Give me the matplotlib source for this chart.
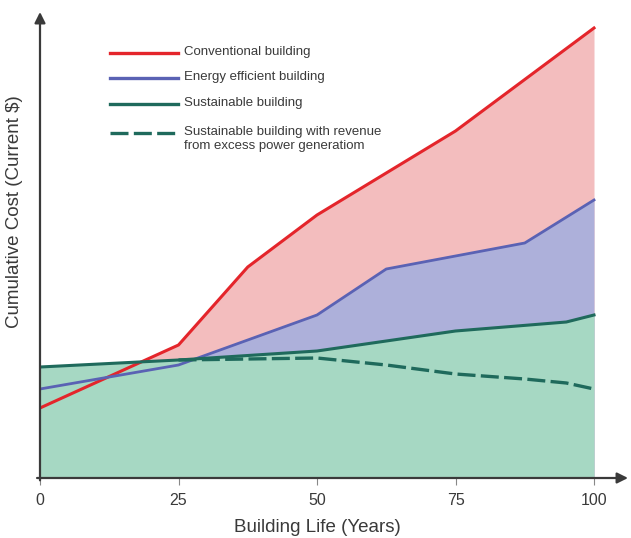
import matplotlib
matplotlib.use("Agg")
import matplotlib.pyplot as plt

plt.rcParams['font.family'] = ['Liberation Sans', 'DejaVu Sans']

# Cumulative cost over building life (arbitrary current-$ units)
conv_years = [0, 25, 37.5, 50, 75, 100]
conv_cost = [69, 132, 210, 262, 346, 449]

eff_years = [0, 25, 50, 62.5, 87.5, 100]
eff_cost = [88, 112, 162, 208, 234, 277]

sust_years = [0, 25, 50, 75, 95, 100]
sust_cost = [110, 117, 126, 146, 155, 162]

rev_years = [25, 37.5, 50, 62.5, 75, 87.5, 95, 100]
rev_cost = [117, 118, 119, 112, 103, 98, 94, 88]

xticks = [0, 25, 50, 75, 100]
legend_labels = ["Conventional building",
                 "Energy efficient building",
                 "Sustainable building",
                 "Sustainable building with revenue\nfrom excess power generatiom"]

RED, RED_FILL = "#e4252b", "#f3bdbe"
BLUE, BLUE_FILL = "#5a62b4", "#adb0da"
GREEN, GREEN_FILL = "#1f6a5c", "#a6d8c3"
AXIS = "#3a3a3a"
TEXT = "#3a3a3a"
DASH = (0, (5.4, 1.6))

fig = plt.figure(figsize=(6.31, 5.38), dpi=100)
W, H = 631, 538
left, right, bottom, top = 40, 628, 478, 12
ax = fig.add_axes([left / W, (H - bottom) / H, (right - left) / W, (bottom - top) / H])
ax.set_xlim(0, (right - left) / 5.54)
ax.set_ylim(-1, bottom - top - 1)

# Layered area fills
ax.fill_between(conv_years, 0, conv_cost, color=RED_FILL, lw=0, zorder=1)
ax.fill_between(eff_years, 0, eff_cost, color=BLUE_FILL, lw=0, zorder=2)
ax.fill_between(sust_years, 0, sust_cost, color=GREEN_FILL, lw=0, zorder=3)

# Cost curves
ax.plot(conv_years, conv_cost, color=RED, lw=2.2, zorder=5, solid_joinstyle='round')
ax.plot(eff_years, eff_cost, color=BLUE, lw=2.0, zorder=5, solid_joinstyle='round')
ax.plot(sust_years, sust_cost, color=GREEN, lw=2.2, zorder=6, solid_joinstyle='round')
ax.plot(rev_years, rev_cost, color=GREEN, lw=2.4, ls=DASH, zorder=6)

# Axes with arrow heads
for s in ax.spines.values():
    s.set_visible(False)
ax.annotate('', xy=(0, 1.0), xytext=(0, -0.005), xycoords='axes fraction',
            arrowprops=dict(arrowstyle='-|>', color=AXIS, lw=1.6, mutation_scale=16,
                            shrinkA=0, shrinkB=0), zorder=8, annotation_clip=False)
ax.annotate('', xy=(1.0, 0), xytext=(-0.005, 0), xycoords='axes fraction',
            arrowprops=dict(arrowstyle='-|>', color=AXIS, lw=1.6, mutation_scale=16,
                            shrinkA=0, shrinkB=0), zorder=8, annotation_clip=False)

ax.set_xticks(xticks)
ax.set_xticklabels([str(t) for t in xticks])
ax.set_yticks([])
ax.tick_params(axis='x', direction='out', length=5, width=0.8, color='#888888',
               labelsize=11.5, labelcolor=TEXT, pad=6)


def fx(px):
    return (px - left) / (right - left)


def fy(py):
    return (bottom - py) / (bottom - top)


# Axis titles
ax.text(fx(317), fy(528), "Building Life (Years)", transform=ax.transAxes,
        fontsize=13.5, color=TEXT, ha='center', va='center')
ax.text(fx(15), fy(212), "Cumulative Cost (Current $)", transform=ax.transAxes,
        fontsize=13.5, color=TEXT, ha='center', va='center', rotation=90)

# Legend drawn in axes coordinates
entries = [
    (53, dict(color=RED, lw=2.4, ls='-')),
    (78, dict(color=BLUE, lw=2.4, ls='-')),
    (104, dict(color=GREEN, lw=2.4, ls='-')),
    (133, dict(color=GREEN, lw=2.4, ls=DASH)),
]
for (py, style), label in zip(entries, legend_labels):
    ax.plot([fx(110), fx(178)], [fy(py), fy(py)], transform=ax.transAxes,
            zorder=9, clip_on=False, **style)
    for i, line in enumerate(label.split('\n')):
        ax.text(fx(184), fy(py - 1 + 14 * i), line, transform=ax.transAxes,
                fontsize=9.5, color=TEXT, va='center', ha='left')

fig.savefig("out.png", dpi=100)
